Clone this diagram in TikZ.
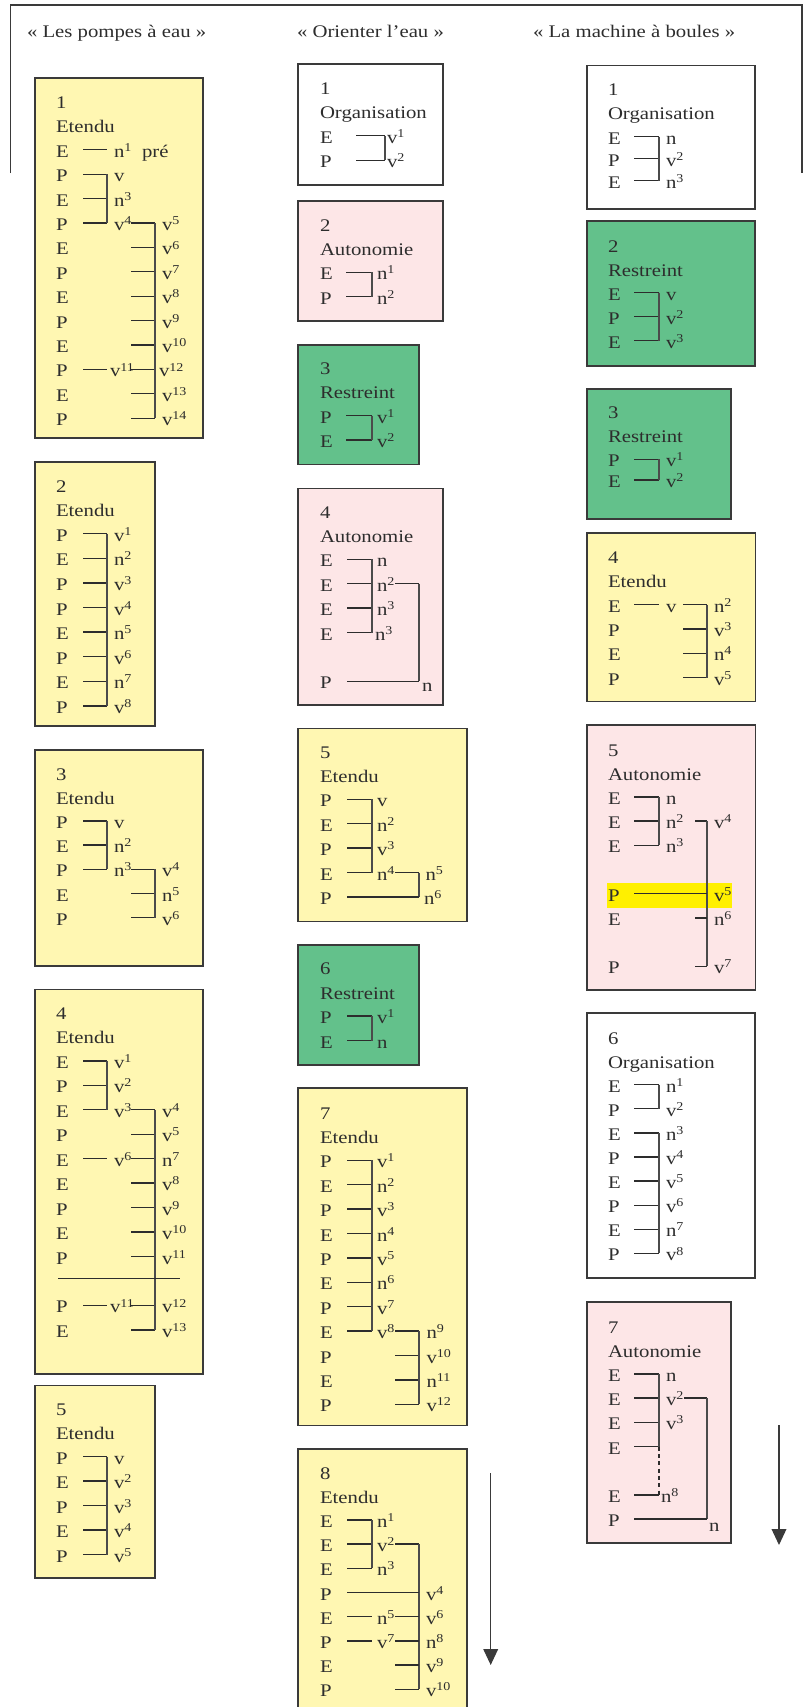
\documentclass[tikz,border=0pt]{standalone}
\usepackage{fontspec}
\setmainfont{Liberation Serif}[FakeStretch=1.17]
\usetikzlibrary{arrows.meta}
\definecolor{yel}{RGB}{255,247,178}
\definecolor{pnk}{RGB}{253,230,231}
\definecolor{grn}{RGB}{99,193,139}
\definecolor{hly}{RGB}{255,240,0}
\definecolor{bdc}{RGB}{58,58,58}
\definecolor{txc}{RGB}{45,45,45}
\definecolor{lnc}{RGB}{45,45,45}
\definecolor{vlc}{RGB}{75,75,75}
\newcount\nodec
\newcommand\su[1]{\raisebox{4.4pt}{\fontsize{9}{10}\selectfont #1}}
\newcommand\myT[3]{\global\advance\nodec by 1\relax
  \node[txt] (t\the\nodec) at ({#1},{\bY+\rS*(#2)+6}) {#3};}
\newcommand\myH[3]{\draw[stub] ({#1},{\bY+\rS*(#3)-1.5}) -- ({#2},{\bY+\rS*(#3)-1.5});}
\newcommand\myV[3]{\draw[vln] ({#1},{\bY+\rS*(#2)-1.5}) -- ({#1},{\bY+\rS*(#3)-1.5});}
\newcommand\myLab[3]{\foreach \lbl [count=\kk from #2] in {#3} {\myT{#1}{\kk}{\lbl}}}
\newcommand\myLs[2]{\myLab{\lx}{#1}{#2}}
\begin{document}
\begin{tikzpicture}[x=0.75pt,y=-0.75pt,
  txt/.style={anchor=base west,inner sep=0pt,outer sep=0pt,text=txc,font=\fontsize{13.3}{16}\selectfont},
  bxs/.style={draw=bdc,line width=1.15pt},
  stub/.style={draw=lnc,line width=1pt},
  vln/.style={draw=vlc,line width=0.8pt},
  dsh/.style={draw=lnc,line width=1.1pt,dash pattern=on 3pt off 2.5pt},
  frm/.style={draw=bdc,line width=1.1pt},
  arr/.style={draw=bdc,line width=1.1pt,-{Triangle[width=11pt,length=12pt]}}]
\useasboundingbox (0,0) rectangle (804,1707);
\clip (0,0) rectangle (804,1707);
\fill[white] (0,0) rectangle (804,1707);
% frame and titles
\draw[frm] (10.7,173) -- (10.7,5) -- (802,5) -- (802,173);
\def\bY{31.5}\def\rS{24}
\myT{27}{0}{« Les pompes à eau »}
\myT{297}{0}{« Orienter l’eau »}
\myT{533}{0}{« La machine à boules »}
% ================= LEFT COLUMN
\def\lx{56}
% L1
\def\bY{102.5}\def\rS{24.4}
\draw[bxs,fill=yel] (35,78) rectangle (203,438);
\myT{\lx}{0}{1}\myT{\lx}{1}{Etendu}
\myLs{2}{E,P,E,P,E,P,E,P,E,P,E,P}
\myH{83}{107}{2}\myT{114}{2}{n\su{1}}\myT{142}{2}{pré}
\myH{83}{107}{3}\myH{83}{107}{4}\myH{83}{107}{5}\myV{107}{3}{5}
\myLab{114}{3}{v,n\su{3},v\su{4}}
\foreach \kk in {5,...,13}{\myH{131}{155}{\kk}}\myV{155}{5}{13}
\myH{83}{107}{11}\myT{110}{11}{v\su{11}}
\myLab{162}{5}{v\su{5},v\su{6},v\su{7},v\su{8},v\su{9},v\su{10}}
\myT{159}{11}{v\su{12}}\myT{162}{12}{v\su{13}}\myT{162}{13}{v\su{14}}
% L2
\def\bY{486}\def\rS{24.6}
\draw[bxs,fill=yel] (35,462) rectangle (155,726);
\myT{\lx}{0}{2}\myT{\lx}{1}{Etendu}
\myLs{2}{P,E,P,P,E,P,E,P}
\foreach \kk in {2,...,9}{\myH{83}{107}{\kk}}\myV{107}{2}{9}
\myLab{114}{2}{v\su{1},n\su{2},v\su{3},v\su{4},n\su{5},v\su{6},n\su{7},v\su{8}}
% L3
\def\bY{774}\def\rS{24.2}
\draw[bxs,fill=yel] (35,750) rectangle (203,966);
\myT{\lx}{0}{3}\myT{\lx}{1}{Etendu}
\myLs{2}{P,E,P,E,P}
\foreach \kk in {2,3,4}{\myH{83}{107}{\kk}}\myV{107}{2}{4}
\myLab{114}{2}{v,n\su{2},n\su{3}}
\foreach \kk in {4,5,6}{\myH{131}{155}{\kk}}\myV{155}{4}{6}
\myLab{162}{4}{v\su{4},n\su{5},v\su{6}}
% L4
\def\bY{1013.5}\def\rS{24.45}
\draw[bxs,fill=yel] (35,989.6) rectangle (203,1374);
\myT{\lx}{0}{4}\myT{\lx}{1}{Etendu}
\myLs{2}{E,P,E,P,E,E,P,E,P}
\myT{\lx}{12}{P}\myT{\lx}{13}{E}
\foreach \kk in {2,3,4}{\myH{83}{107}{\kk}}\myV{107}{2}{4}
\myLab{114}{2}{v\su{1},v\su{2},v\su{3}}
\foreach \kk in {4,...,10}{\myH{131}{155}{\kk}}
\myH{131}{155}{12}\myH{131}{155}{13}
\myV{155}{4}{13}
\myH{83}{107}{6}\myT{114}{6}{v\su{6}}
\myH{83}{107}{12}\myT{110}{12}{v\su{11}}
\draw[stub] (58,{\bY+\rS*11-4}) -- (180,{\bY+\rS*11-4});
\myLab{162}{4}{v\su{4},v\su{5},n\su{7},v\su{8},v\su{9},v\su{10},v\su{11}}
\myT{162}{12}{v\su{12}}\myT{162}{13}{v\su{13}}
% L5
\def\bY{1409}\def\rS{24.5}
\draw[bxs,fill=yel] (35,1385.6) rectangle (155,1578);
\myT{\lx}{0}{5}\myT{\lx}{1}{Etendu}
\myLs{2}{P,E,P,E,P}
\foreach \kk in {2,...,6}{\myH{83}{107}{\kk}}\myV{107}{2}{6}
\myLab{114}{2}{v,v\su{2},v\su{3},v\su{4},v\su{5}}
% ================= MIDDLE COLUMN
\def\lx{320}
% M1
\def\bY{88}\def\rS{24.6}
\draw[bxs,fill=white] (298,64) rectangle (443,185);
\myT{\lx}{0}{1}\myT{\lx}{1}{Organisation}
\myLs{2}{E,P}
\myH{356}{385}{2}\myH{356}{385}{3}\myV{385}{2}{3}
\myLab{387}{2}{v\su{1},v\su{2}}
% M2
\def\bY{225}\def\rS{24.4}
\draw[bxs,fill=pnk] (298,201) rectangle (443,321);
\myT{\lx}{0}{2}\myT{\lx}{1}{Autonomie}
\myLs{2}{E,P}
\myH{346}{372}{2}\myH{346}{372}{3}\myV{372}{2}{3}
\myLab{377}{2}{n\su{1},n\su{2}}
% M3
\def\bY{368.5}\def\rS{24.3}
\draw[bxs,fill=grn] (298,345) rectangle (419,464.5);
\myT{\lx}{0}{3}\myT{\lx}{1}{Restreint}
\myLs{2}{P,E}
\myH{346}{372}{2}\myH{346}{372}{3}\myV{372}{2}{3}
\myLab{377}{2}{v\su{1},v\su{2}}
% M4
\def\bY{512}\def\rS{24.4}
\draw[bxs,fill=pnk] (298,488.6) rectangle (443,705);
\myT{\lx}{0}{4}\myT{\lx}{1}{Autonomie}
\myLs{2}{E,E,E,E}
\myT{\lx}{7}{P}
\foreach \kk in {2,...,5}{\myH{347}{372}{\kk}}\myV{372}{2}{5}
\myLab{377}{2}{n,n\su{2},n\su{3}}\myT{375}{5}{n\su{3}}
\myH{395}{419}{3}\myV{419}{3}{7}\myH{347}{419}{7}
\myT{422}{7.1}{n}
% M5
\def\bY{752}\def\rS{24.4}
\draw[bxs,fill=yel] (298,728.6) rectangle (467,921.6);
\myT{\lx}{0}{5}\myT{\lx}{1}{Etendu}
\myLs{2}{P,E,P,E,P}
\foreach \kk in {2,...,5}{\myH{347}{372}{\kk}}\myV{372}{2}{5}
\myLab{377}{2}{v,n\su{2},v\su{3},n\su{4}}
\myH{395}{419}{5}\myV{419}{5}{6}\myH{347}{419}{6}
\myT{425.5}{5}{n\su{5}}\myT{424}{6}{n\su{6}}
% M6
\def\bY{968.5}\def\rS{24.5}
\draw[bxs,fill=grn] (298,945) rectangle (419,1065);
\myT{\lx}{0}{6}\myT{\lx}{1}{Restreint}
\myLs{2}{P,E}
\myH{347}{372}{2}\myH{347}{372}{3}\myV{372}{2}{3}
\myLab{377}{2}{v\su{1},n}
% M7
\def\bY{1113}\def\rS{24.4}
\draw[bxs,fill=yel] (298,1088) rectangle (467,1425.5);
\myT{\lx}{0}{7}\myT{\lx}{1}{Etendu}
\myLs{2}{P,E,P,E,P,E,P,E,P,E,P}
\foreach \kk in {2,...,9}{\myH{347}{372}{\kk}}\myV{372}{2}{9}
\myLab{377}{2}{v\su{1},n\su{2},v\su{3},n\su{4},v\su{5},n\su{6},v\su{7},v\su{8}}
\foreach \kk in {9,...,12}{\myH{395}{419}{\kk}}\myV{419}{9}{12}
\myLab{426.5}{9}{n\su{9},v\su{10},n\su{11},v\su{12}}
% M8
\def\bY{1473}\def\rS{24.2}
\draw[bxs,fill=yel] (298,1449) rectangle (467,1740);
\myT{\lx}{0}{8}\myT{\lx}{1}{Etendu}
\myLs{2}{E,E,E,P,E,P,E,P}
\foreach \kk in {2,3,4}{\myH{347}{372}{\kk}}\myV{372}{2}{4}
\myLab{377}{2}{n\su{1},v\su{2},n\su{3}}
\myH{395}{419}{3}\myV{419}{3}{9}
\myH{347}{419}{5}
\myH{347}{372}{6}\myH{347}{372}{7}
\myT{377}{6}{n\su{5}}\myT{377}{7}{v\su{7}}
\foreach \kk in {6,...,9}{\myH{395}{419}{\kk}}
\myLab{426}{5}{v\su{4},v\su{6},n\su{8},v\su{9},v\su{10}}
\coordinate (ma1) at (490.7,1473);
\coordinate (ma2) at (490.7,1665);
\draw[arr] (ma1) -- (ma2);
% ================= RIGHT COLUMN
\def\lx{608}
% R1
\def\bY{89}\def\rS{24.5}
\draw[bxs,fill=white] (587,65.7) rectangle (755,209);
\myT{\lx}{0}{1}\myT{\lx}{1}{Organisation}
\myT{\lx}{2}{E}\myT{\lx}{2.9}{P}\myT{\lx}{3.8}{E}
\myH{634}{659}{2}\myH{634}{659}{2.9}\myH{634}{659}{3.8}\myV{659}{2}{3.8}
\myT{666}{2}{n}\myT{666}{2.9}{v\su{2}}\myT{666}{3.8}{n\su{3}}
% R2
\def\bY{246}\def\rS{24}
\draw[bxs,fill=grn] (587,221) rectangle (755,366);
\myT{\lx}{0}{2}\myT{\lx}{1}{Restreint}
\myLs{2}{E,P,E}
\foreach \kk in {2,3,4}{\myH{634}{659}{\kk}}\myV{659}{2}{4}
\myLab{666}{2}{v,v\su{2},v\su{3}}
% R3
\def\bY{412.7}\def\rS{24}
\draw[bxs,fill=grn] (587,389) rectangle (731,519);
\myT{\lx}{0}{3}\myT{\lx}{1}{Restreint}
\myT{\lx}{2}{P}\myT{\lx}{2.87}{E}
\myH{634}{659}{2}\myH{634}{659}{2.87}\myV{659}{2}{2.87}
\myT{666}{2}{v\su{1}}\myT{666}{2.87}{v\su{2}}
% R4
\def\bY{557.5}\def\rS{24.3}
\draw[bxs,fill=yel] (587,533) rectangle (755.7,701.7);
\myT{\lx}{0}{4}\myT{\lx}{1}{Etendu}
\myLs{2}{E,P,E,P}
\myH{634}{659}{2}\myT{666}{2}{v}
\foreach \kk in {2,...,5}{\myH{683}{707}{\kk}}\myV{707}{2}{5}
\myLab{714}{2}{n\su{2},v\su{3},n\su{4},v\su{5}}
% R5
\def\bY{750}\def\rS{24.2}
\draw[bxs,fill=pnk] (587,725) rectangle (755.7,990);
\fill[hly] (607,883) rectangle (732,908);
\myT{\lx}{0}{5}\myT{\lx}{1}{Autonomie}
\myLs{2}{E,E,E}
\myT{\lx}{6}{P}\myT{\lx}{7}{E}\myT{\lx}{9}{P}
\foreach \kk in {2,3,4}{\myH{634}{659}{\kk}}\myV{659}{2}{4}
\myLab{666}{2}{n,n\su{2},n\su{3}}
\myH{695}{707}{3}\myV{707}{3}{9}\myH{634}{707}{6}\myH{695}{707}{7}\myH{695}{707}{9}
\myT{714}{3}{v\su{4}}\myT{714}{6}{v\su{5}}\myT{714}{7}{n\su{6}}\myT{714}{9}{v\su{7}}
% R6
\def\bY{1038}\def\rS{24.1}
\draw[bxs,fill=white] (587,1013) rectangle (755,1278);
\myT{\lx}{0}{6}\myT{\lx}{1}{Organisation}
\myLs{2}{E,P,E,P,E,P,E,P}
\foreach \kk in {2,...,9}{\myH{634}{659}{\kk}}\myV{659}{2}{3}\myV{659}{4}{9}
\myLab{666}{2}{n\su{1},v\su{2},n\su{3},v\su{4},v\su{5},v\su{6},n\su{7},v\su{8}}
% R7
\def\bY{1327}\def\rS{24.2}
\draw[bxs,fill=pnk] (587,1302) rectangle (731,1543);
\myT{\lx}{0}{7}\myT{\lx}{1}{Autonomie}
\myLs{2}{E,E,E,E}
\myT{\lx}{7}{E}\myT{\lx}{8}{P}
\foreach \kk in {2,3,4,5,7}{\myH{634}{659}{\kk}}\myV{659}{2}{5}
\draw[dsh] (659,{\bY+\rS*5-1.5}) -- (659,{\bY+\rS*7-1.5});
\myLab{666}{2}{n,v\su{2},v\su{3}}\myT{661}{7}{n\su{8}}
\myH{684}{707}{3}\myV{707}{3}{8}\myH{634}{707}{8}\myT{709}{8.2}{n}
\coordinate (ra1) at (779,1425);
\coordinate (ra2) at (779,1545);
\draw[arr] (ra1) -- (ra2);
\end{tikzpicture}
\end{document}
